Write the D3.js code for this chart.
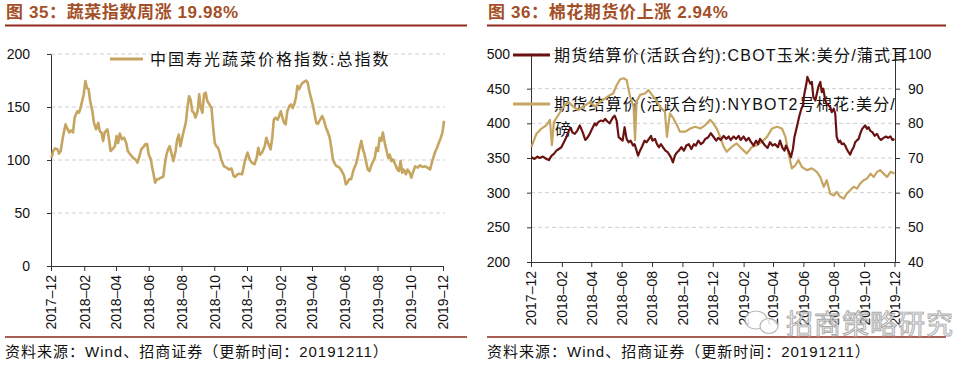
<!DOCTYPE html>
<html>
<head>
<meta charset="utf-8">
<script src="https://cdn.jsdelivr.net/npm/d3@7"></script>
<style>
body { margin: 0; background: #fff; }
svg text { font-family: "Liberation Sans", "Noto Sans CJK SC", sans-serif; }
</style>
</head>
<body>
<svg id="chart" width="962" height="368"></svg>
<script>
// x tick labels shared by both panels
var monthTicks = ["2017-12","2018-02","2018-04","2018-06","2018-08","2018-10","2018-12",
                  "2019-02","2019-04","2019-06","2019-08","2019-10","2019-12"];

// 中国寿光蔬菜价格指数:总指数  (days since 2017-12-01, value)
var vegDays = [1,4,8,12,15,18,22,27,30,34,38,41,44,49,52,55,58,61,64,67,70,73,77,80,84,88,91,94,97,100,
  105,108,111,114,119,122,125,128,132,136,140,143,148,153,157,161,165,168,171,176,179,182,186,188,191,194,197,200,204,209,
  212,215,218,221,224,228,232,235,238,241,245,248,251,254,257,260,263,266,269,273,276,279,282,285,288,291,295,299,302,305,
  308,311,314,317,322,327,331,336,340,343,347,351,356,361,366,370,374,379,383,386,389,393,398,401,405,409,412,415,418,422,
  425,428,431,434,437,440,444,447,450,453,456,459,462,466,469,472,475,478,481,485,488,491,494,497,500,505,508,512,515,519,
  522,525,529,532,536,540,543,546,549,552,555,559,562,565,568,571,574,578,581,584,587,590,593,596,600,603,606,609,612,615,
  618,622,625,628,631,634,637,641,645,648,651,654,657,661,664,668,671,674,678,683,687,692,697,701,706,710,713,716,719,722,
  725,729,732];
var vegVals = [102,108.5,111,110,106,108.5,121,133.6,130,126,128,126,140,146,144.6,149,155.7,162,174.5,168,166.7,155.7,146,135,129,135,127,126,118,126,
  129,119.5,108.5,110,113,122.6,116,125,119.5,121,116,108.5,105,102,100.6,97.5,104,110,111.6,115,115,105,100.6,94,86.5,78.6,81.8,81.8,83.3,84,
  96,105,110,113,107,99,108.5,119.5,124,113,122.6,129,135,149,160,157,146,144.6,140,146,162,149,144.6,162,163.5,155.7,152.5,149,130.5,116,
  113,111.6,107,100.6,94,92.8,91,92,85,84,86.5,87,86.5,99,107,100.6,97.5,96,102,111.6,105,107,113,121,115,110,121,138,140,138,
  141.5,146,140,135,133.6,146,151,152.5,149,152.5,158.8,170,166.7,171,173,174,175,173,165,157,151,143,135,134,136.8,141.5,138,130.5,127,121,
  111.6,100.6,96,94,93.4,91,88,85,77,78.6,81.8,81.8,88,92.8,96,102,110,118,110,105,97.5,91,89.6,94,99,102,111.6,108.5,121,118,
  126,115,108.5,102,105,99,100.6,96,91,89.6,99,88,91,86.5,91,88,83.3,88,94,92.8,95,93.4,94,92.8,91,99,103.8,108.5,111.6,116,
  119.5,126,137];

// 期货结算价(活跃合约):CBOT玉米:美分/蒲式耳
var cornDays = [1,7,13,17,24,31,36,41,46,51,56,61,66,71,76,80,83,88,93,98,101,105,109,113,118,121,125,128,131,135,
  140,145,149,153,158,161,165,168,172,176,180,184,188,192,196,200,205,208,212,215,219,224,228,232,237,241,244,249,253,257,
  261,265,270,275,281,285,289,293,297,302,307,312,317,322,327,331,336,341,346,350,356,361,366,372,376,381,387,392,397,401,
  407,412,417,421,427,432,437,441,447,452,456,460,465,470,475,480,485,490,496,500,505,509,512,517,522,526,529,533,536,539,
  543,546,549,553,555,558,561,564,567,571,574,577,581,584,587,591,594,598,601,604,608,611,614,618,621,624,628,631,634,638,
  641,644,648,651,654,658,661,665,668,671,675,678,681,686,690,695,699,703,708,713,717,722,726,730];
var cornVals = [351,348.6,352,350,352,348.6,347,353,356,360.6,363,365.5,372.7,380,389.6,393.5,387,384.8,389.6,397,392,384.8,376,379,384.8,389.6,395.4,400,397,401.7,
  404,403,406.5,403,400,404,409,411,404,380,377.5,375,394.4,377.5,372.7,375,368,370,360.6,353.4,360.6,368,375,372.7,377.5,382,375,377.5,370,365.5,
  370,365.5,360.6,358,351,343.7,353.4,358,360.6,365.5,360.6,368,370,363,370,368,375,370,372.7,377.5,380,385.7,381,375,379,376,382,377.5,381,376,
  381,377.5,382,376,381,375,379,374,368,375,370,377.5,372.7,368,364.5,372.7,368,370,365.5,375,364.5,360.6,368,360.6,351,363,380,392,401.7,411,
  421,425.8,442.8,457,467,462,457,459.7,438,433,442.8,452.4,459.7,445,450,433,428,425.8,423,416,421,413.8,380,372.7,375,370,371,368,363,358,
  355,360.6,365.5,372.7,375,377.5,384.8,392,394.4,397,392,394.4,389.6,387,382,384.8,379,376,379,381,379,381,376,377.5];

// 期货结算价(活跃合约):NYBOT2号棉花:美分/磅
var cottonDays = [1,11,21,31,38,42,46,55,65,75,85,95,105,119,129,139,149,159,165,172,179,186,192,199,206,209,212,219,229,236,
  243,249,259,269,273,279,286,293,299,310,320,330,340,350,360,366,373,380,387,393,403,413,423,433,444,454,464,474,484,494,
  504,511,517,524,531,537,544,554,564,574,581,588,594,601,608,614,621,628,634,641,648,655,661,668,675,682,688,695,701,708,
  715,722,730];
var cottonVals = [73.2,77,78.5,79.5,81,73.7,80.4,82.4,84.8,86.2,84.8,83.8,84.8,86.2,84.8,86.2,87.2,88.2,88.6,91,92.7,93,92.5,87.7,84.8,75.1,86.2,88.2,88.6,89.6,
  88.2,87.2,84.8,83.3,76.1,82.9,81.4,79.5,77.6,77.6,78.5,79,78.5,79.5,81,80,78.5,76.1,73.2,71.8,73.2,74.2,72.7,71.3,73.2,73.7,74.7,76.1,78.5,79,
  78.5,76.1,71.3,67,67.9,69.4,67.4,66.5,67,66,64.5,61.7,63.6,59.7,59.2,60.2,58.8,58.3,59.7,60.7,61.7,61.2,62.6,63.6,64.1,65.5,64.5,66,66.5,65.5,
  64.5,66,65.5];

var vegTicks = [0, 50, 100, 150, 200];
var cornTicks = [200, 250, 300, 350, 400, 450, 500];
var cottonTicks = [40, 50, 60, 70, 80, 90, 100];

var titles = ["图 35：蔬菜指数周涨 19.98%", "图 36：棉花期货价上涨 2.94%"];
var source = "资料来源：Wind、招商证券（更新时间：20191211）";
var vegName = "中国寿光蔬菜价格指数:总指数";
var cornName = "期货结算价(活跃合约):CBOT玉米:美分/蒲式耳";
var cottonName1 = "期货结算价(活跃合约):NYBOT2号棉花:美分/";
var cottonName2 = "磅";

var gold = "#c5a560", maroon = "#6a1212", titleColor = "#a34f27", ruleColor = "#8e2a1c";

var svg = d3.select("#chart");
var start = new Date(2017, 11, 1);
var parseMonth = d3.timeParse("%Y-%m");
var tickDates = monthTicks.map(parseMonth);
function toDate(d) { return d3.timeDay.offset(start, d); }

function header(x0, x1, title) {
  svg.append("text").attr("x", x0 + 1).attr("y", 18)
    .attr("font-size", 17).attr("font-weight", "bold").attr("letter-spacing", 0.6)
    .attr("fill", titleColor).text(title);
  svg.append("line").attr("x1", x0).attr("x2", x1).attr("y1", 25.5).attr("y2", 25.5)
    .attr("stroke", ruleColor).attr("stroke-width", 2);
  svg.append("line").attr("x1", x0).attr("x2", x1).attr("y1", 337).attr("y2", 337)
    .attr("stroke", ruleColor).attr("stroke-width", 1.5);
  svg.append("text").attr("x", x0).attr("y", 357).attr("font-size", 15)
    .attr("letter-spacing", 1).attr("fill", "#111").text(source);
}

function styleAxis(g) {
  g.selectAll("path, line").attr("stroke", "#333");
  g.selectAll("text").attr("font-size", 14).attr("fill", "#111");
}

function xAxis(x, yBase) {
  var g = svg.append("g").attr("transform", "translate(0," + yBase + ")")
    .call(d3.axisBottom(x).tickValues(tickDates).tickSize(5).tickSizeOuter(0)
      .tickFormat(function(d, i) { return monthTicks[i].replace("-", "–"); }));
  styleAxis(g);
  g.selectAll("text").attr("transform", "rotate(-90)").attr("x", -9).attr("y", 0)
    .attr("dy", "0.35em").style("text-anchor", "end");
}

function grid(y, ticks, x0, x1) {
  svg.append("g").selectAll("line").data(ticks.slice(1)).enter().append("line")
    .attr("x1", x0).attr("x2", x1).attr("y1", function(d) { return y(d); }).attr("y2", function(d) { return y(d); })
    .attr("stroke", "#cfcfcf").attr("stroke-dasharray", "4,3");
}

// ---------- left panel ----------
header(5, 467, titles[0]);
var xL = d3.scaleTime().domain([tickDates[0], tickDates[12]]).range([51, 443]);
var yV = d3.scaleLinear().domain([0, 200]).range([266, 54]);
grid(yV, vegTicks, 51, 445);
var gy = svg.append("g").attr("transform", "translate(51,0)")
  .call(d3.axisLeft(yV).tickValues(vegTicks).tickSize(4).tickPadding(17).tickSizeOuter(0));
styleAxis(gy);
xAxis(xL, 266);

svg.append("line").attr("x1", 110).attr("x2", 143).attr("y1", 59).attr("y2", 59)
  .attr("stroke", gold).attr("stroke-width", 3);
svg.append("text").attr("x", 150).attr("y", 65).attr("font-size", 16).attr("letter-spacing", 2)
  .attr("fill", "#111").text(vegName);

var vegData = vegDays.map(function(d, i) { return { date: toDate(d), v: vegVals[i] }; });
svg.append("path").datum(vegData)
  .attr("fill", "none").attr("stroke", gold).attr("stroke-width", 2.6).attr("stroke-linejoin", "round")
  .attr("d", d3.line().x(function(d) { return xL(d.date); }).y(function(d) { return yV(d.v); }));

// ---------- right panel ----------
header(487, 946, titles[1]);
var xR = d3.scaleTime().domain([tickDates[0], tickDates[12]]).range([531, 894.5]);
var yC = d3.scaleLinear().domain([200, 500]).range([262, 54]);
var yT = d3.scaleLinear().domain([40, 100]).range([262, 54]);
grid(yC, cornTicks, 531, 895);
var gl = svg.append("g").attr("transform", "translate(531,0)")
  .call(d3.axisLeft(yC).tickValues(cornTicks).tickSize(4).tickPadding(17).tickSizeOuter(0));
styleAxis(gl);
var gr = svg.append("g").attr("transform", "translate(895,0)")
  .call(d3.axisRight(yT).tickValues(cottonTicks).tickSize(5).tickPadding(8).tickSizeOuter(0));
styleAxis(gr);
xAxis(xR, 262);

// legend (lines are drawn on top of it, as in the source)
svg.append("line").attr("x1", 513).attr("x2", 550).attr("y1", 55).attr("y2", 55)
  .attr("stroke", maroon).attr("stroke-width", 3);
svg.append("text").attr("x", 554).attr("y", 61).attr("font-size", 16).attr("letter-spacing", 1.2)
  .attr("fill", "#111").text(cornName);
svg.append("line").attr("x1", 513).attr("x2", 550).attr("y1", 104).attr("y2", 104)
  .attr("stroke", gold).attr("stroke-width", 3);
svg.append("text").attr("x", 554).attr("y", 110).attr("font-size", 16).attr("letter-spacing", 1.2)
  .attr("fill", "#111").text(cottonName1);
svg.append("text").attr("x", 555).attr("y", 135).attr("font-size", 16)
  .attr("fill", "#111").text(cottonName2);

var cottonData = cottonDays.map(function(d, i) { return { date: toDate(d), v: cottonVals[i] }; });
var cornData = cornDays.map(function(d, i) { return { date: toDate(d), v: cornVals[i] }; });
svg.append("path").datum(cottonData)
  .attr("fill", "none").attr("stroke", gold).attr("stroke-width", 2.2).attr("stroke-linejoin", "round")
  .attr("d", d3.line().x(function(d) { return xR(d.date); }).y(function(d) { return yT(d.v); }));
svg.append("path").datum(cornData)
  .attr("fill", "none").attr("stroke", maroon).attr("stroke-width", 2.2).attr("stroke-linejoin", "round")
  .attr("d", d3.line().x(function(d) { return xR(d.date); }).y(function(d) { return yC(d.v); }));

// watermark
var wm = svg.append("g").attr("opacity", 0.85);
wm.append("ellipse").attr("cx", 756).attr("cy", 320).attr("rx", 11).attr("ry", 9)
  .attr("fill", "#fff").attr("stroke", "#aaa").attr("stroke-width", 1.2);
wm.append("ellipse").attr("cx", 769).attr("cy", 326).attr("rx", 9).attr("ry", 7.5)
  .attr("fill", "#fff").attr("stroke", "#aaa").attr("stroke-width", 1.2);
wm.append("text").attr("x", 786).attr("y", 334).attr("font-size", 27).attr("letter-spacing", 1)
  .attr("fill", "#f2f2f2").attr("stroke", "#9a9a9a").attr("stroke-width", 0.9)
  .text("招商策略研究");
</script>
</body>
</html>
